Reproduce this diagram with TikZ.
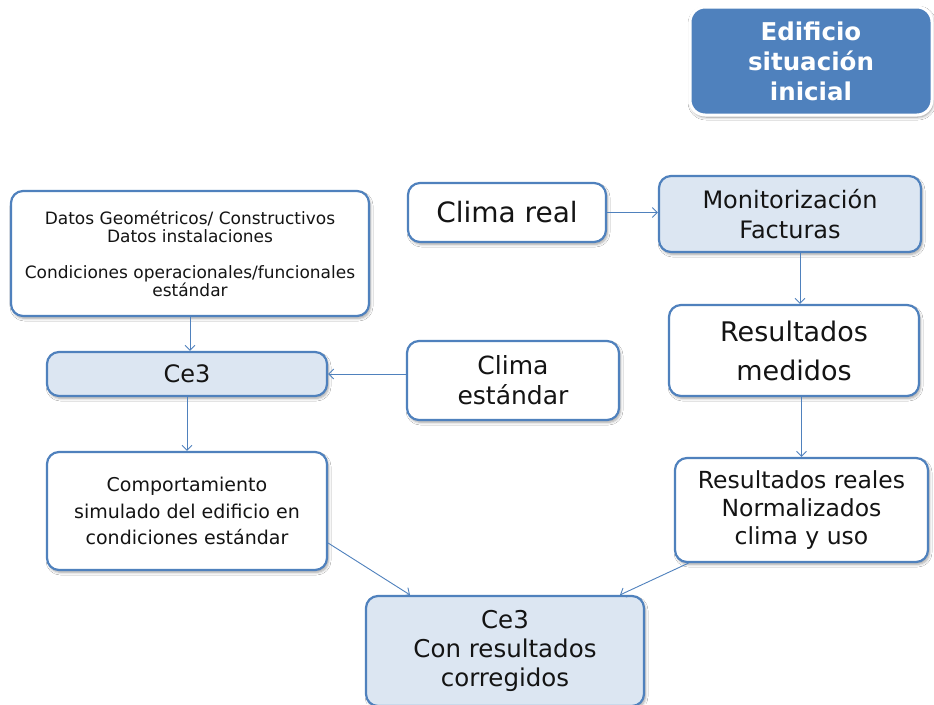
\documentclass[tikz,border=0pt]{standalone}
\usepackage{fontspec}
\setmainfont{DejaVu Sans}
\usetikzlibrary{arrows.meta,shadows.blur}
\definecolor{bblue}{RGB}{79,129,189}
\definecolor{lblue}{RGB}{220,230,242}
\definecolor{txt}{RGB}{20,20,20}
\begin{document}
\begin{tikzpicture}[x=1pt,y=-1pt,
  box/.style={draw=bblue,line width=2.2pt,rounded corners=12pt,fill=white,
    align=center,inner sep=0pt,text=txt,
    blur shadow={shadow xshift=1.5pt,shadow yshift=-2.5pt,shadow blur radius=2.5pt,shadow blur steps=6,shadow opacity=35}},
  lbox/.style={box,fill=lblue},
  topbox/.style={draw=white,line width=3pt,rounded corners=15pt,fill=bblue,
    align=center,inner sep=0pt,text=white,font=\bfseries\fontsize{24.5}{30}\selectfont,
    blur shadow={shadow xshift=1pt,shadow yshift=-2pt,shadow blur radius=3pt,shadow blur steps=6,shadow opacity=45}},
  arr/.style={draw=bblue,line width=0.9pt,-{Straight Barb[length=5pt,width=10pt,line width=0.9pt]}}]
\useasboundingbox (0,0) rectangle (934,704);
\clip (0,0) rectangle (934,704);
\fill[white] (0,0) rectangle (934,704);

\node[topbox,minimum width=242pt,minimum height=108pt] (edif) at (811,61)
  {Edificio\\situación\\inicial};

\node[box,minimum width=358pt,minimum height=125pt,font=\fontsize{17}{18}\selectfont] (datos) at (190,253.5)
  {Datos Geométricos/ Constructivos\\Datos instalaciones\\[18pt]Condiciones operacionales/funcionales\\estándar};

\node[lbox,minimum width=280pt,minimum height=44pt,font=\fontsize{24}{30}\selectfont] (ce3) at (187,374) {Ce3};

\node[box,minimum width=212pt,minimum height=79pt,font=\fontsize{25}{30}\selectfont] (climaest) at (513,380.5)
  {Clima\\estándar};

\node[box,minimum width=198pt,minimum height=59pt,font=\fontsize{28}{34}\selectfont] (climareal) at (507,212.5)
  {Clima real};

\node[lbox,minimum width=262pt,minimum height=76pt,font=\fontsize{24}{30}\selectfont] (monit) at (790,214)
  {Monitorización\\Facturas};

\node[box,minimum width=250pt,minimum height=91pt,font=\fontsize{27}{39}\selectfont] (resmed) at (794,350.5)
  {Resultados\\medidos};

\node[box,minimum width=280pt,minimum height=118pt,font=\fontsize{19}{26.5}\selectfont] (comp) at (187,511)
  {Comportamiento\\simulado del edificio en\\condiciones estándar};

\node[box,minimum width=253pt,minimum height=104pt,font=\fontsize{23.5}{28}\selectfont] (resreal) at (801.5,510)
  {Resultados reales\\Normalizados\\clima y uso};

\node[lbox,minimum width=278pt,minimum height=110pt,font=\fontsize{24.5}{29}\selectfont] (corr) at (505,651)
  {Ce3\\Con resultados\\corregidos};

\draw[arr] (datos.south) -- (datos.south |- ce3.north);
\draw[arr] (climaest.west |- ce3.east) -- (ce3.east);
\draw[arr] (climareal.east) -- (climareal.east -| monit.west);
\draw[arr] ([xshift=10pt]monit.south) -- ([xshift=10pt]monit.south |- resmed.north);
\draw[arr] (resreal.north |- resmed.south) -- (resreal.north);
\draw[arr] (ce3.south) -- (comp.north);
\draw[arr] ([yshift=-32pt]comp.east) -- ([xshift=-95pt]corr.north);
\draw[arr] ([xshift=-113pt]resreal.south) -- ([xshift=115pt]corr.north);
\end{tikzpicture}
\end{document}
